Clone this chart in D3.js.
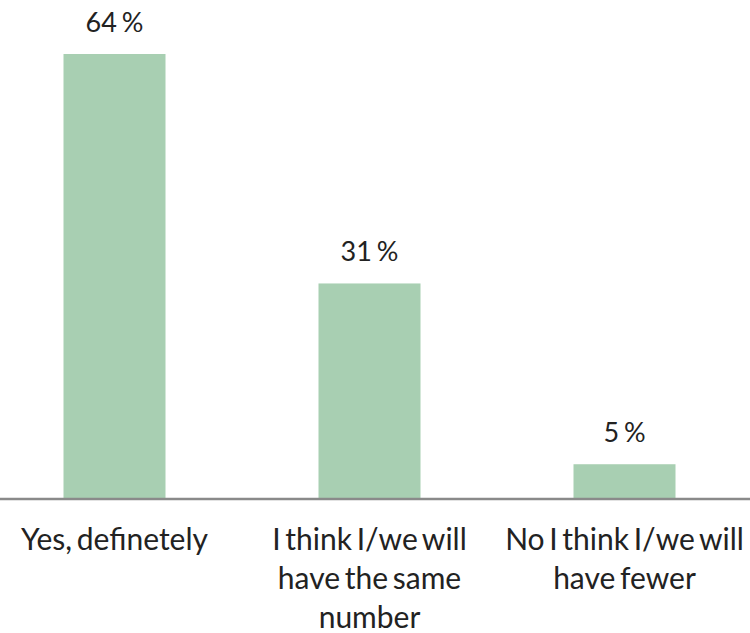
<!DOCTYPE html>
<html lang="en">
<head>
    <meta charset="UTF-8">
    <title>chart</title>
    <script src="https://cdn.jsdelivr.net/npm/d3@7"></script>
    <style>
        *{ padding: 0; margin: 0; }
        body{ background: #fff; }
        svg{ display: block; font-family: Lato, "Open Sans", sans-serif; }
    </style>
</head>
<body>
    <script>
        // data
        let categories = ["Yes, definetely", "I think I/we will have the same number", "No I think I/we will have fewer"];
        let tickLines = [["Yes, definetely"], ["I think I/we will", "have the same", "number"], ["No I think I/we will", "have fewer"]];
        let values = [64, 31, 5];
        let valueLabels = ["64 %", "31 %", "5 %"];

        let width = 750, height = 633;
        let baseY = 499;
        let barColor = "#a8cfb2";

        let svg = d3.select("body").append("svg")
            .attr("width", width)
            .attr("height", height);

        let x = d3.scaleBand()
            .domain(categories)
            .range([-13, 752])
            .paddingInner(0.6)
            .paddingOuter(0.3);

        // 64% -> top at y=54
        let y = d3.scaleLinear()
            .domain([0, 64])
            .range([baseY, 54]);

        svg.selectAll("rect.bar").data(categories).enter().append("rect")
            .attr("class", "bar")
            .attr("x", d => x(d))
            .attr("width", x.bandwidth())
            .attr("y", (d, i) => y(values[i]))
            .attr("height", (d, i) => baseY - y(values[i]))
            .attr("fill", barColor);

        svg.selectAll("text.val").data(categories).enter().append("text")
            .attr("class", "val")
            .attr("x", d => x(d) + x.bandwidth() / 2)
            .attr("y", (d, i) => y(values[i]) - 22)
            .attr("text-anchor", "middle")
            .attr("font-size", 27)
            .attr("word-spacing", -2)
            .attr("fill", "#222")
            .text((d, i) => valueLabels[i]);

        // baseline axis
        let axis = svg.append("g")
            .attr("transform", "translate(0," + baseY + ")")
            .call(d3.axisBottom(x).tickSize(0).tickFormat(""));
        axis.select(".domain")
            .attr("d", "M0,0H" + width)
            .attr("stroke", "#8a8a8a")
            .attr("stroke-width", 2.5);

        // multi line tick labels
        let ticks = svg.selectAll("text.tick").data(categories).enter().append("text")
            .attr("class", "tick")
            .attr("x", d => x(d) + x.bandwidth() / 2)
            .attr("y", 550)
            .attr("text-anchor", "middle")
            .attr("font-size", 30)
            .attr("word-spacing", -3)
            .attr("fill", "#222");
        ticks.each(function(d, i) {
            let t = d3.select(this);
            tickLines[i].forEach(function(line, j) {
                t.append("tspan")
                    .attr("x", x(d) + x.bandwidth() / 2)
                    .attr("dy", j === 0 ? 0 : 39)
                    .text(line);
            });
        });
    </script>
</body>
</html>
